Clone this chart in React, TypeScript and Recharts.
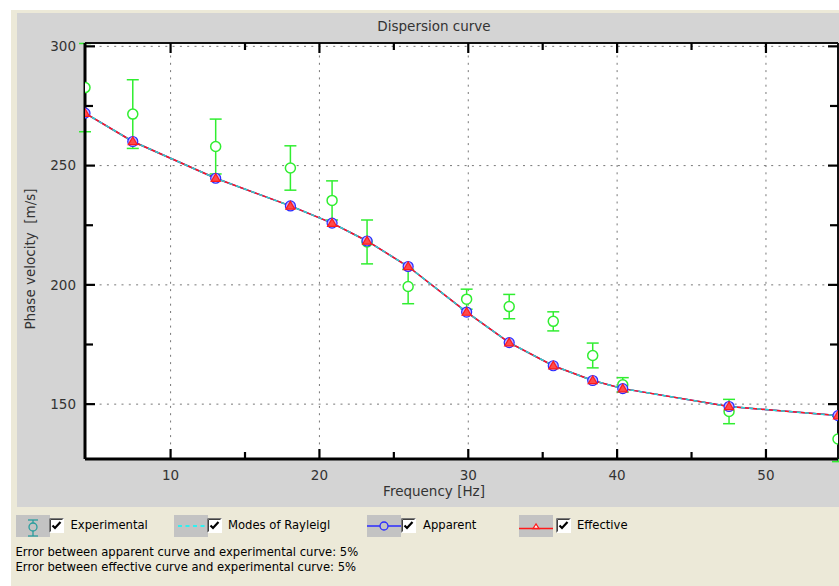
import React from 'react';
import { ComposedChart, Line, XAxis, YAxis, ReferenceLine, ErrorBar } from 'recharts';

// ---- data ----
const FREQ = [4.25, 7.46, 13.03, 18.05, 20.85, 23.2, 25.96, 29.89, 32.75, 35.71, 38.36, 40.38, 47.52, 54.84];
const EXP_V = [282.7, 271.6, 258.0, 249.0, 235.4, 218.0, 199.3, 194.0, 190.9, 184.7, 170.4, 158.1, 146.9, 135.4];
const EXP_ERR = [18.5, 14.4, 11.5, 9.3, 8.2, 9.2, 7.2, 4.2, 5.1, 4.0, 5.2, 3.0, 5.1, 9.5];
const APPARENT = [272.0, 260.1, 244.7, 233.1, 225.9, 218.4, 207.7, 188.6, 175.8, 166.1, 159.9, 156.5, 149.0, 145.2];
const EFFECTIVE = [272.0, 260.1, 244.7, 233.1, 225.9, 218.4, 207.7, 188.6, 175.8, 166.1, 159.9, 156.5, 149.0, 145.2];
const MODES = [272.0, 260.1, 244.7, 233.1, 225.9, 218.4, 207.7, 188.6, 175.8, 166.1, 159.9, 156.5, 149.0, 145.2];

const X_TICKS = [10, 15, 20, 25, 30, 35, 40, 45, 50];
const X_MAJOR = [10, 20, 30, 40, 50];
const Y_TICKS = [150, 175, 200, 225, 250, 275, 300];
const Y_MAJOR = [150, 200, 250, 300];
const Y_DOMAIN: [number, number] = [127, 301.4];
const X_DOMAIN: [number, number] = [Math.min(...FREQ), Math.max(...FREQ)];

const TITLE = 'Dispersion curve';
const X_LABEL = 'Frequency [Hz]';
const Y_LABEL = 'Phase velocity  [m/s]';
const LEGEND = ['Experimental', 'Modes of Rayleigl', 'Apparent', 'Effective'];
const NOTES = [
  'Error between apparent curve and experimental curve: 5%',
  'Error between effective curve and experimental curve: 5%',
];

const data = FREQ.map((f, i) => ({
  f,
  exp: EXP_V[i],
  err: EXP_ERR[i],
  app: APPARENT[i],
  eff: EFFECTIVE[i],
  modes: MODES[i],
}));

const FONT = '"DejaVu Sans", Verdana, sans-serif';
const GREEN = '#30ee30';
const BLUE = '#2b2bff';
const RED = '#ff1a1a';
const CYAN = '#22d6d6';

const BOTTOM_MARGIN = 11;
const BottomTick = (props: any) => {
  const { x, y, payload } = props;
  const major = X_MAJOR.includes(payload.value);
  const base = y - BOTTOM_MARGIN;
  return (
    <g>
      <line x1={x} y1={base} x2={x} y2={base - (major ? 10 : 7)} stroke="#000" strokeWidth={2.2} />
      {major && (
        <text x={x} y={y} dy="0.71em" textAnchor="middle" fontSize={13.5} fontFamily={FONT} fill="#333">
          {payload.value}
        </text>
      )}
    </g>
  );
};

const TopTick = (props: any) => {
  const { x, y, payload } = props;
  const major = X_MAJOR.includes(payload.value);
  return <line x1={x} y1={y} x2={x} y2={y + (major ? 10 : 7)} stroke="#000" strokeWidth={2.2} />;
};

const LEFT_MARGIN = 9;
const LeftTick = (props: any) => {
  const { x, y, payload } = props;
  const major = Y_MAJOR.includes(payload.value);
  const base = x + LEFT_MARGIN;
  return (
    <g>
      <line x1={base} y1={y} x2={base + (major ? 10 : 8)} y2={y} stroke="#000" strokeWidth={2.2} />
      {major && (
        <text x={x} y={y} dy="0.355em" textAnchor="end" fontSize={13.5} fontFamily={FONT} fill="#333">
          {payload.value}
        </text>
      )}
    </g>
  );
};

const RightTick = (props: any) => {
  const { x, y, payload } = props;
  const major = Y_MAJOR.includes(payload.value);
  return <line x1={x} y1={y} x2={x - (major ? 10 : 8)} y2={y} stroke="#000" strokeWidth={2.2} />;
};

const EffDot = (props: any) => {
  const { cx, cy } = props;
  if (cx == null || cy == null) return null;
  return (
    <polygon
      points={`${cx},${cy - 4.5} ${cx - 4.5},${cy + 3.2} ${cx + 4.5},${cy + 3.2}`}
      fill="#ff4a4a"
      stroke={RED}
      strokeWidth={1.2}
    />
  );
};

const XLabel = (props: any) => {
  const vb = props.viewBox;
  return (
    <text x={vb.x + 349} y={vb.y + 37} textAnchor="middle" fontSize={13.5} fontFamily={FONT} fill="#333">
      {X_LABEL}
    </text>
  );
};

const YLabel = (props: any) => {
  const vb = props.viewBox;
  const cx = vb.x + 17.5;
  const cy = vb.y + vb.height / 2 + 8;
  return (
    <text
      x={cx}
      y={cy}
      transform={`rotate(-90 ${cx} ${cy})`}
      textAnchor="middle"
      fontSize={13.5}
      fontFamily={FONT}
      fill="#333"
      style={{ whiteSpace: 'pre' }}
    >
      {Y_LABEL}
    </text>
  );
};

const CheckBox = ({ left }: { left: number }) => (
  <svg style={{ position: 'absolute', left, top: 518 }} width={15} height={15}>
    <rect x={0} y={0} width={15} height={15} fill="#fff" />
    <path d="M0.5 14.5 V0.5 H14.5" stroke="#7a7a7a" fill="none" />
    <path d="M1.5 13.5 V1.5 H13.5" stroke="#404040" fill="none" />
    <path d="M3.5 7.5 L6 10 L11.5 4" stroke="#000" strokeWidth={2.2} fill="none" />
  </svg>
);

const LegendBox = ({ left, children }: { left: number; children: React.ReactNode }) => (
  <svg style={{ position: 'absolute', left, top: 515 }} width={34} height={22}>
    <rect x={0} y={0} width={34} height={22} fill="#c3c3c3" />
    {children}
  </svg>
);

const textStyle = (left: number, top: number): React.CSSProperties => ({
  position: 'absolute',
  left,
  top,
  fontFamily: FONT,
  fontSize: 11.6,
  lineHeight: '15px',
  color: '#000',
  whiteSpace: 'pre',
});

export default function App() {
  return (
    <div style={{ position: 'fixed', left: 0, top: 0, width: 839, height: 586, overflow: 'hidden', background: '#fff' }}>
      <div style={{ position: 'absolute', left: 11, top: 10, width: 828, height: 576, background: '#ECE9D8' }} />
      <div style={{ position: 'absolute', left: 17, top: 13, width: 822, height: 494, background: '#D4D4D4' }}>
        <div
          style={{
            position: 'absolute',
            left: 0,
            top: 5,
            width: 834,
            textAlign: 'center',
            fontFamily: FONT,
            fontSize: 13.5,
            lineHeight: '16px',
            color: '#333',
          }}
        >
          {TITLE}
        </div>
        {/* plot background */}
        <div style={{ position: 'absolute', left: 68, top: 30, width: 753, height: 416, background: '#fff' }} />
        <div style={{ position: 'absolute', left: 0, top: 0 }}>
          <ComposedChart width={822} height={494} data={data} margin={{ top: 29, right: 0, left: 0, bottom: 0 }}>
            {X_MAJOR.map((v) => (
              <ReferenceLine key={'vx' + v} x={v} stroke="#777" strokeDasharray="2 5.3" strokeWidth={1} />
            ))}
            {Y_MAJOR.map((v) => (
              <ReferenceLine key={'hy' + v} y={v} stroke="#777" strokeDasharray="2 5.3" strokeWidth={1} />
            ))}
            <XAxis
              dataKey="f"
              type="number"
              domain={X_DOMAIN}
              allowDataOverflow
              ticks={X_TICKS}
              interval={0}
              height={48}
              tickSize={0}
              tickMargin={BOTTOM_MARGIN}
              tickLine={false}
              axisLine={{ stroke: '#000', strokeWidth: 3 }}
              tick={<BottomTick />}
              label={<XLabel />}
            />
            <XAxis
              xAxisId="top"
              orientation="top"
              dataKey="f"
              type="number"
              domain={X_DOMAIN}
              allowDataOverflow
              ticks={X_TICKS}
              interval={0}
              height={1}
              tickSize={0}
              tickMargin={0}
              tickLine={false}
              axisLine={{ stroke: '#111', strokeWidth: 2 }}
              tick={<TopTick />}
            />
            <YAxis
              type="number"
              domain={Y_DOMAIN}
              allowDataOverflow
              ticks={Y_TICKS}
              interval={0}
              width={68}
              tickSize={0}
              tickMargin={LEFT_MARGIN}
              tickLine={false}
              axisLine={{ stroke: '#000', strokeWidth: 3 }}
              tick={<LeftTick />}
              label={<YLabel />}
            />
            <YAxis
              yAxisId="r"
              orientation="right"
              type="number"
              domain={Y_DOMAIN}
              allowDataOverflow
              ticks={Y_TICKS}
              interval={0}
              width={1}
              tickSize={0}
              tickMargin={0}
              tickLine={false}
              axisLine={{ stroke: '#111', strokeWidth: 2 }}
              tick={<RightTick />}
            />
            <Line
              dataKey="exp"
              stroke="none"
              isAnimationActive={false}
              dot={{ r: 5, fill: '#fff', stroke: GREEN, strokeWidth: 1.5 }}
              activeDot={false}
            >
              <ErrorBar dataKey="err" width={6} stroke={GREEN} strokeWidth={1.5} direction="y" />
            </Line>
            <Line
              dataKey="app"
              stroke={BLUE}
              strokeWidth={1.5}
              isAnimationActive={false}
              dot={{ r: 5, fill: '#c0b0ff', stroke: BLUE, strokeWidth: 1.2 }}
              activeDot={false}
            />
            <Line dataKey="eff" stroke={RED} strokeWidth={1.5} isAnimationActive={false} dot={<EffDot />} activeDot={false} />
            <Line
              dataKey="modes"
              stroke={CYAN}
              strokeWidth={1.5}
              strokeDasharray="4 4"
              isAnimationActive={false}
              dot={false}
              activeDot={false}
            />
            {/* invisible series binding the frame axes */}
            <Line dataKey="modes" xAxisId="top" yAxisId="r" stroke="none" dot={false} activeDot={false} isAnimationActive={false} />
          </ComposedChart>
        </div>
      </div>

      {/* Legend */}
      <LegendBox left={16}>
        <line x1={17} y1={5} x2={17} y2={21} stroke="#2a9d9d" strokeWidth={1.3} />
        <line x1={12} y1={5} x2={22} y2={5} stroke="#2a9d9d" strokeWidth={1.3} />
        <line x1={12} y1={21} x2={22} y2={21} stroke="#2a9d9d" strokeWidth={1.3} />
        <circle cx={17} cy={12} r={4} fill="#c3c3c3" stroke="#2a9d9d" strokeWidth={1.3} />
      </LegendBox>
      <CheckBox left={49} />
      <div style={textStyle(70.5, 517.5)}>{LEGEND[0]}</div>

      <LegendBox left={174}>
        <line x1={4} y1={11} x2={32} y2={11} stroke="#00ffff" strokeWidth={1.3} strokeDasharray="4 3.5" />
      </LegendBox>
      <CheckBox left={207} />
      <div style={textStyle(228, 517.5)}>{LEGEND[1]}</div>

      <LegendBox left={367}>
        <line x1={0} y1={11} x2={34} y2={11} stroke={BLUE} strokeWidth={1.3} />
        <circle cx={17} cy={11} r={4} fill="#c3c3c3" stroke={BLUE} strokeWidth={1.3} />
      </LegendBox>
      <CheckBox left={401} />
      <div style={textStyle(423, 517.5)}>{LEGEND[2]}</div>

      <LegendBox left={519}>
        <line x1={0} y1={13.5} x2={34} y2={13.5} stroke={RED} strokeWidth={1.3} />
        <polygon points="17,9 14,13.5 20,13.5" fill="#fff" stroke={RED} strokeWidth={1.3} />
      </LegendBox>
      <CheckBox left={556} />
      <div style={textStyle(577, 517.5)}>{LEGEND[3]}</div>

      <div style={textStyle(15.5, 544.5)}>{NOTES[0]}</div>
      <div style={textStyle(15.5, 559.5)}>{NOTES[1]}</div>
    </div>
  );
}
